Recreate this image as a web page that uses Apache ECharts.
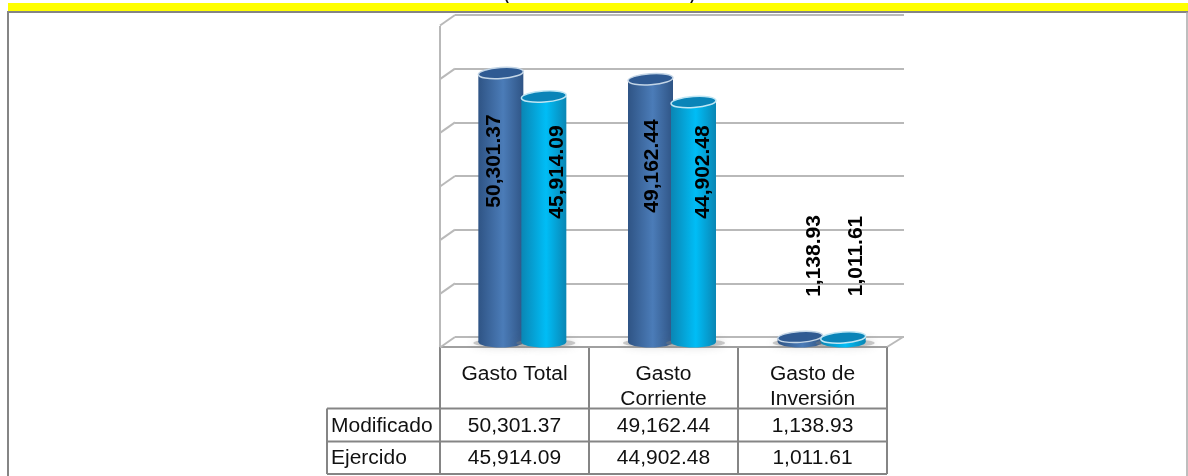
<!DOCTYPE html>
<html>
<head>
<meta charset="utf-8">
<title>Gasto</title>
<script src="https://cdn.jsdelivr.net/npm/echarts@6/dist/echarts.min.js"></script>
<style>
    html, body { margin: 0; padding: 0; background: #fff; }
    #chart { width: 1188px; height: 476px; }
</style>
</head>
<body>
<div id="chart"></div>
<script>
// data
var categories = ["Gasto Total", "Gasto\nCorriente", "Gasto de\nInversión"];
var modificado = [50301.37, 49162.44, 1138.93];
var ejercido = [45914.09, 44902.48, 1011.61];
var axisTicks = [0, 10000, 20000, 30000, 40000, 50000, 60000];
var seriesNames = ["Modificado", "Ejercido"];

var FONT = "'Liberation Sans', Arial, sans-serif";
var LINE = "#b9b9b9";
var CELL = "#858585";

// where each data label sits, in px against the bar group (hand placed in the original)
var labelDx = [[-6, 14], [2, 10], [14, 13]];
var labelY = [[161, 172], [166, 172], [256, 256]];

var palette = [
    {edge: "#2f5485", mid: "#4b7cb8", top: "#2f5a92", rim: "#c3d5e6"},
    {edge: "#0a86b4", mid: "#00bdf6", top: "#0a84b8", rim: "#bfe6f4"}
];

function fmt(v) {
    return v.toLocaleString("en-US", {minimumFractionDigits: 2, maximumFractionDigits: 2});
}

function cylinder(s) {
    return function (params, api) {
        var i = api.value(0);
        var base = api.coord([i, 0]);
        var top = api.coord([i, api.value(1)]);
        var p = palette[s];
        var cx = base[0] - 7.5 + (s === 0 ? -21.5 : 21.5);
        var y0 = base[1] + 5;
        var y1 = top[1] + 6;
        var rx = 22.5, ry = 5.5;
        var grad = new echarts.graphic.LinearGradient(0, 0, 1, 0, [
            {offset: 0, color: p.edge},
            {offset: 0.55, color: p.mid},
            {offset: 1, color: p.edge}
        ]);
        var tilt = 0.07;
        return {
            type: "group",
            children: [
                {
                    type: "ellipse",
                    shape: {cx: cx + 2, cy: y0 + 1, rx: rx + 7, ry: 4},
                    style: {fill: "rgba(130,130,130,0.4)", shadowBlur: 8, shadowColor: "rgba(110,110,110,0.7)"}
                },
                {
                    type: "ellipse",
                    shape: {cx: cx, cy: y0, rx: rx, ry: ry},
                    style: {fill: grad}
                },
                {
                    type: "rect",
                    shape: {x: cx - rx, y: y1, width: rx * 2, height: y0 - y1},
                    style: {fill: grad}
                },
                {
                    type: "ellipse",
                    shape: {cx: cx, cy: y1, rx: rx, ry: ry},
                    rotation: tilt,
                    originX: cx,
                    originY: y1,
                    style: {fill: p.top, stroke: p.rim, lineWidth: 1.5}
                },
                {
                    type: "text",
                    x: cx + labelDx[i][s],
                    y: labelY[i][s],
                    rotation: Math.PI / 2,
                    style: {
                        text: fmt(api.value(1)),
                        font: "bold 20px " + FONT,
                        fill: "#000",
                        align: "center",
                        verticalAlign: "middle"
                    },
                    scaleX: 1.05
                }
            ]
        };
    };
}

// build the table + frame from the small arrays above
var colX = [440, 589, 738, 887];
var rowY = [347, 408.5, 441.5, 474];
var graphics = [];

function gline(x1, y1, x2, y2, color, w) {
    graphics.push({
        type: "line",
        shape: {x1: x1, y1: y1, x2: x2, y2: y2},
        style: {stroke: color, lineWidth: w},
        silent: true
    });
}

function gtext(txt, x, y, align) {
    graphics.push({
        type: "text",
        x: x,
        y: y,
        scaleX: 1.05,
        style: {text: txt, font: "20px " + FONT, fill: "#111", align: align || "center", verticalAlign: "middle", lineHeight: 25},
        silent: true
    });
}

// clipped title, only the brackets show
gtext("(", 507, -5);
gtext(")", 692, -5);
graphics.push({type: "rect", shape: {x: 8, y: 3, width: 1180, height: 8}, style: {fill: "#ffff00"}, silent: true});
gline(7, 12, 1188, 12, CELL, 2);
gline(8, 12, 8, 476, CELL, 2);
gline(1187, 12, 1187, 476, "#a8a8a8", 1.5);

// left wall and floor
gline(440, 26, 440, 347, LINE, 2);
gline(887, 347, 903, 337, LINE, 2);

// table
colX.forEach(function (x) { gline(x, 347, x, 474, CELL, 2); });
gline(440, 347, 887, 347, "#a0a0a0", 2);
gline(327, 408.5, 887, 408.5, CELL, 2);
gline(327, 441.5, 887, 441.5, CELL, 2);
gline(327, 474, 887, 474, CELL, 2);
gline(327, 408.5, 327, 474, CELL, 2);

categories.forEach(function (c, i) {
    var cx = (colX[i] + colX[i + 1]) / 2;
    var lines = c.split("\n");
    lines.forEach(function (t, k) { gtext(t, cx, 374 + k * 25); });
    gtext(fmt(modificado[i]), cx, (rowY[1] + rowY[2]) / 2 + 1);
    gtext(fmt(ejercido[i]), cx, (rowY[2] + rowY[3]) / 2 + 1);
});
gtext(seriesNames[0], 331, (rowY[1] + rowY[2]) / 2 + 1, "left");
gtext(seriesNames[1], 331, (rowY[2] + rowY[3]) / 2 + 1, "left");

var chart = echarts.init(document.getElementById("chart"));
chart.setOption({
    animation: false,
    backgroundColor: "#fff",
    grid: {left: 455, top: 15, width: 449, height: 322},
    xAxis: {
        type: "category",
        data: categories,
        axisLine: {show: false},
        axisTick: {show: false},
        axisLabel: {show: false}
    },
    yAxis: {
        type: "value",
        min: 0,
        max: 60000,
        interval: 10000,
        axisLine: {show: false},
        axisTick: {show: false},
        axisLabel: {show: false},
        splitLine: {show: true, lineStyle: {color: LINE, width: 2}}
    },
    graphic: graphics,
    series: [
        {
            // the little slanted ticks from wall back to front edge
            type: "custom",
            name: "wall",
            silent: true,
            z: 1,
            data: axisTicks.map(function (t) { return [0, t]; }),
            renderItem: function (params, api) {
                var p = api.coord([0, api.value(1)]);
                var x0 = params.coordSys.x;
                return {
                    type: "line",
                    shape: {x1: x0, y1: p[1], x2: x0 - 15, y2: p[1] + 10.5},
                    style: {stroke: LINE, lineWidth: 2}
                };
            }
        },
        {
            type: "custom",
            name: seriesNames[0],
            z: 3,
            data: modificado.map(function (v, i) { return [i, v]; }),
            renderItem: cylinder(0)
        },
        {
            type: "custom",
            name: seriesNames[1],
            z: 4,
            data: ejercido.map(function (v, i) { return [i, v]; }),
            renderItem: cylinder(1)
        }
    ]
});
</script>
</body>
</html>
